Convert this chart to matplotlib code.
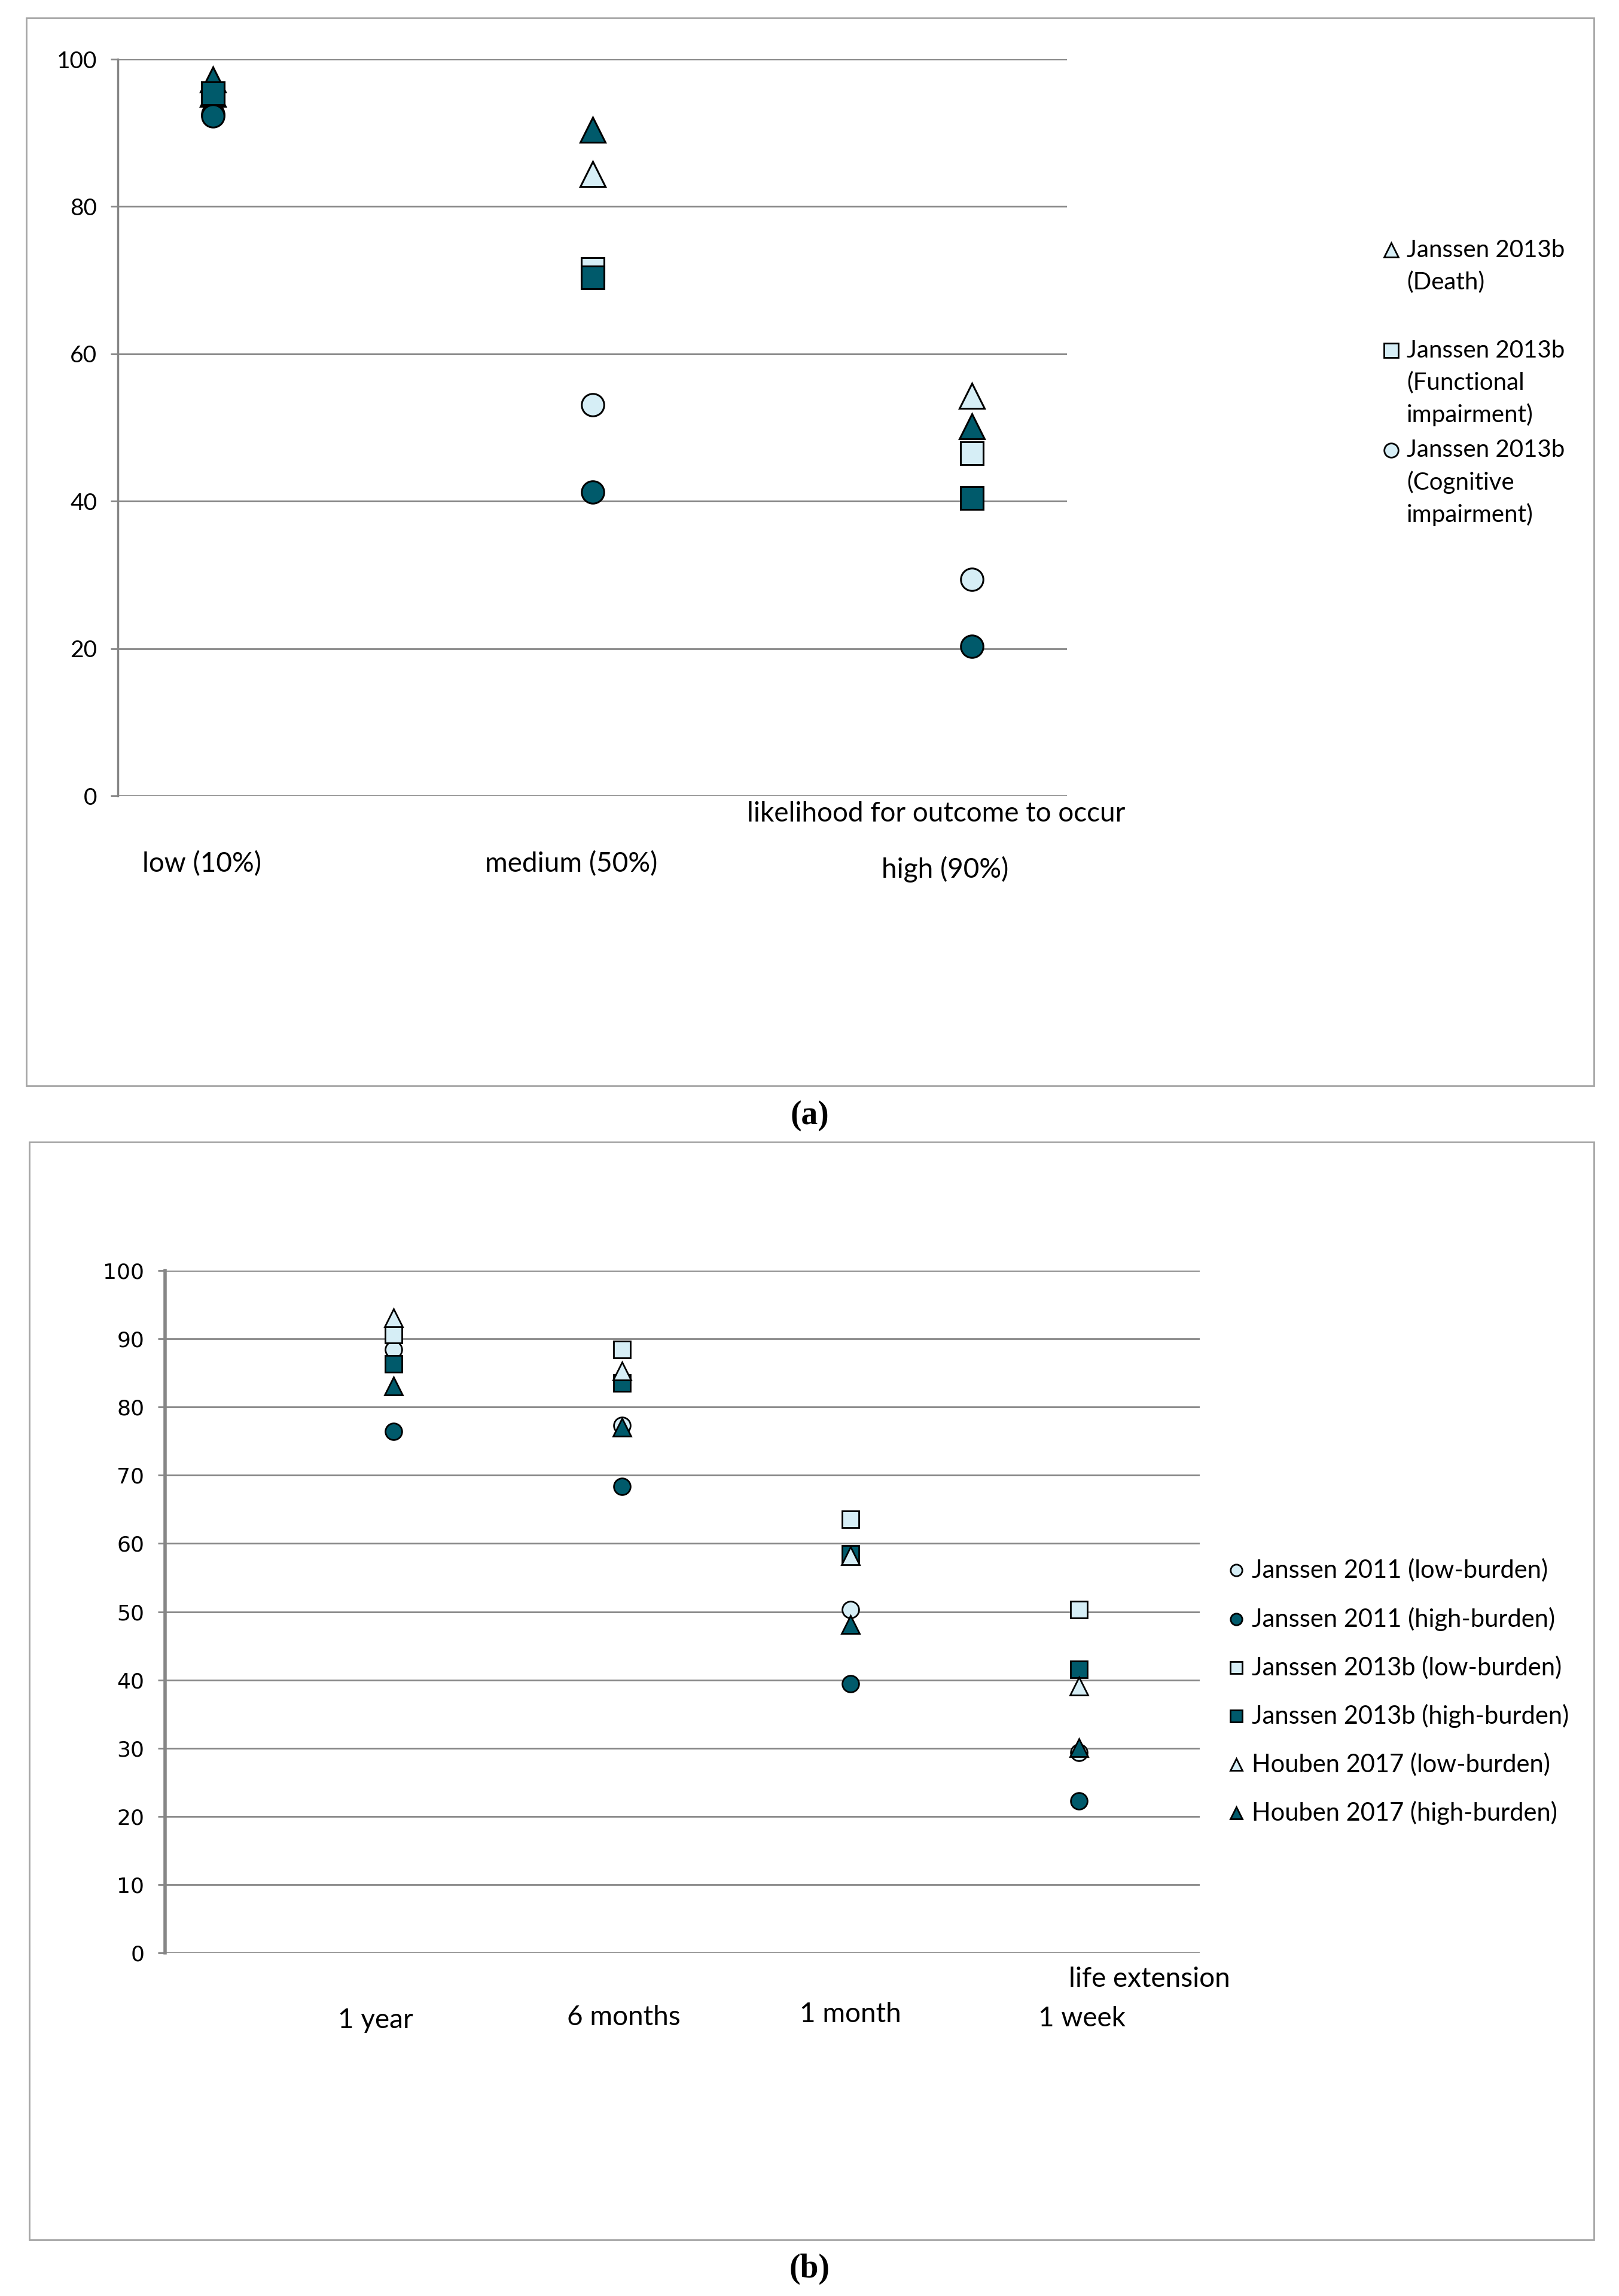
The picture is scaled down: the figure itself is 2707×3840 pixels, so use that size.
import matplotlib.pyplot as plt
from matplotlib.patches import Rectangle

DARK = "#005a6b"
LIGHT = "#d6eef6"
GRID = "#868686"
BOX = "#a6a6a6"
FONT = ["Lato", "DejaVu Sans"]

# panel (a): likelihood for outcome to occur
a_categories = ["low (10%)", "medium (50%)", "high (90%)"]
a_death_light = [95.3, 84.4, 54.3]
a_func_light = [95.4, 71.5, 46.5]
a_cog_light = [92.5, 53.1, 29.4]
a_death_dark = [97.2, 90.4, 50.2]
a_func_dark = [95.4, 70.4, 40.4]
a_cog_dark = [92.3, 41.2, 20.3]
a_legend = [["Janssen 2013b", "(Death)"],
            ["Janssen 2013b", "(Functional", "impairment)"],
            ["Janssen 2013b", "(Cognitive", "impairment)"]]

# panel (b): life extension
b_categories = ["1 year", "6 months", "1 month", "1 week"]
b_j2011_low = [88.4, 77.3, 50.3, 29.4]
b_j2011_high = [76.4, 68.4, 39.4, 22.3]
b_j2013_low = [90.6, 88.4, 63.5, 50.3]
b_j2013_high = [86.3, 83.5, 58.5, 41.5]
b_h2017_low = [93.1, 85.3, 58.2, 39.1]
b_h2017_high = [83.1, 77.0, 48.1, 30.1]
b_legend = ["Janssen 2011 (low-burden)", "Janssen 2011 (high-burden)",
            "Janssen 2013b (low-burden)", "Janssen 2013b (high-burden)",
            "Houben 2017 (low-burden)", "Houben 2017 (high-burden)"]

W, H = 2707, 3840
fig = plt.figure(figsize=(W / 100, H / 100), dpi=100)


def fx(px):
    return px / W


def fy(py):
    return 1 - py / H


def box(x0, y0, x1, y1):
    fig.add_artist(Rectangle((fx(x0), fy(y1)), fx(x1) - fx(x0), fy(y0) - fy(y1),
                             transform=fig.transFigure, fill=False,
                             edgecolor=BOX, linewidth=2))


def setup_axes(ax, ticks, lw):
    ax.set_ylim(0, 100)
    ax.set_yticks(ticks)
    ax.set_xticks([])
    ax.yaxis.grid(True, color=GRID, linewidth=2)
    ax.set_axisbelow(True)
    for side in ["top", "right", "bottom"]:
        ax.spines[side].set_visible(False)
    ax.spines["left"].set_color(GRID)
    ax.spines["left"].set_linewidth(lw)
    ax.tick_params(axis="y", length=9, width=2, color=GRID, pad=16)


box(44, 30, 2665, 1816)
box(49, 1910, 2665, 3746)

# ---- panel (a)
ax_a = fig.add_axes([fx(197), fy(1331), fx(1784) - fx(197), fy(99) - fy(1331)])
setup_axes(ax_a, range(0, 101, 20), 2.5)
ax_a.set_xlim(0.75, 3.25)
for lab in ax_a.get_yticklabels():
    lab.set_fontfamily(FONT)
    lab.set_fontsize(28)

xa = [1, 2, 3]
a_series = [
    (a_death_light, "^", LIGHT, 30),
    (a_func_light, "s", LIGHT, 27),
    (a_cog_light, "o", LIGHT, 27),
    (a_death_dark, "^", DARK, 30),
    (a_func_dark, "s", DARK, 27),
    (a_cog_dark, "o", DARK, 27),
]
for vals, mk, col, ms in a_series:
    ax_a.plot(xa, vals, ls="none", marker=mk, ms=ms, mfc=col, mec="black",
              mew=2.2, clip_on=False, zorder=3)

fig.text(fx(1565), fy(1361), "likelihood for outcome to occur", ha="center",
         va="center", fontsize=33, family=FONT)
for lab, px, py in zip(a_categories, [337, 955, 1580], [1445, 1445, 1454]):
    fig.text(fx(px), fy(py), lab, ha="center", va="center", fontsize=33, family=FONT)

# legend (a)
leg = fig.add_axes([0, 0, 1, 1])
leg.set_xlim(0, 1)
leg.set_ylim(0, 1)
leg.axis("off")
a_leg_y = [418, 586, 753]
for (vals, mk, col, ms), lines, y0 in zip(a_series[:3], a_legend, a_leg_y):
    leg.plot([fx(2326)], [fy(y0)], ls="none", marker=mk, ms=17, mfc=col,
             mec="black", mew=2)
    for i, line in enumerate(lines):
        fig.text(fx(2352), fy(y0 + 54 * i), line, ha="left", va="center",
                 fontsize=29, family=FONT)

fig.text(0.5, fy(1866), "(a)", ha="center", va="center", fontsize=40,
         fontweight="bold", family=["Liberation Serif", "DejaVu Serif"])

# ---- panel (b)
ax_b = fig.add_axes([fx(276), fy(3266), fx(2006) - fx(276), fy(2125) - fy(3266)])
setup_axes(ax_b, range(0, 101, 10), 4)
ax_b.set_xlim(0, 4.53)
for lab in ax_b.get_yticklabels():
    lab.set_fontfamily("DejaVu Sans")
    lab.set_fontsize(26)

xb = [1, 2, 3, 4]
b_series = [
    (b_j2011_low, "o", LIGHT, 20),
    (b_j2011_high, "o", DARK, 20),
    (b_j2013_low, "s", LIGHT, 20),
    (b_j2013_high, "s", DARK, 20),
    (b_h2017_low, "^", LIGHT, 21),
    (b_h2017_high, "^", DARK, 21),
]
for vals, mk, col, ms in b_series:
    ax_b.plot(xb, vals, ls="none", marker=mk, ms=ms, mfc=col, mec="black",
              mew=2, clip_on=False, zorder=3)

fig.text(fx(1922), fy(3310), "life extension", ha="center", va="center",
         fontsize=33, family=FONT)
for lab, px, py in zip(b_categories, [628, 1043, 1422, 1809], [3379, 3374, 3369, 3376]):
    fig.text(fx(px), fy(py), lab, ha="center", va="center", fontsize=33, family=FONT)

b_leg_y = [2626, 2708, 2789, 2870, 2951, 3032]
for (vals, mk, col, ms), label, y0 in zip(b_series, b_legend, b_leg_y):
    leg.plot([fx(2067)], [fy(y0)], ls="none", marker=mk, ms=14, mfc=col,
             mec="black", mew=2)
    fig.text(fx(2093), fy(y0), label, ha="left", va="center", fontsize=30,
             family=FONT)

fig.text(0.5, fy(3795), "(b)", ha="center", va="center", fontsize=40,
         fontweight="bold", family=["Liberation Serif", "DejaVu Serif"])

fig.savefig("out.png", dpi=100)
